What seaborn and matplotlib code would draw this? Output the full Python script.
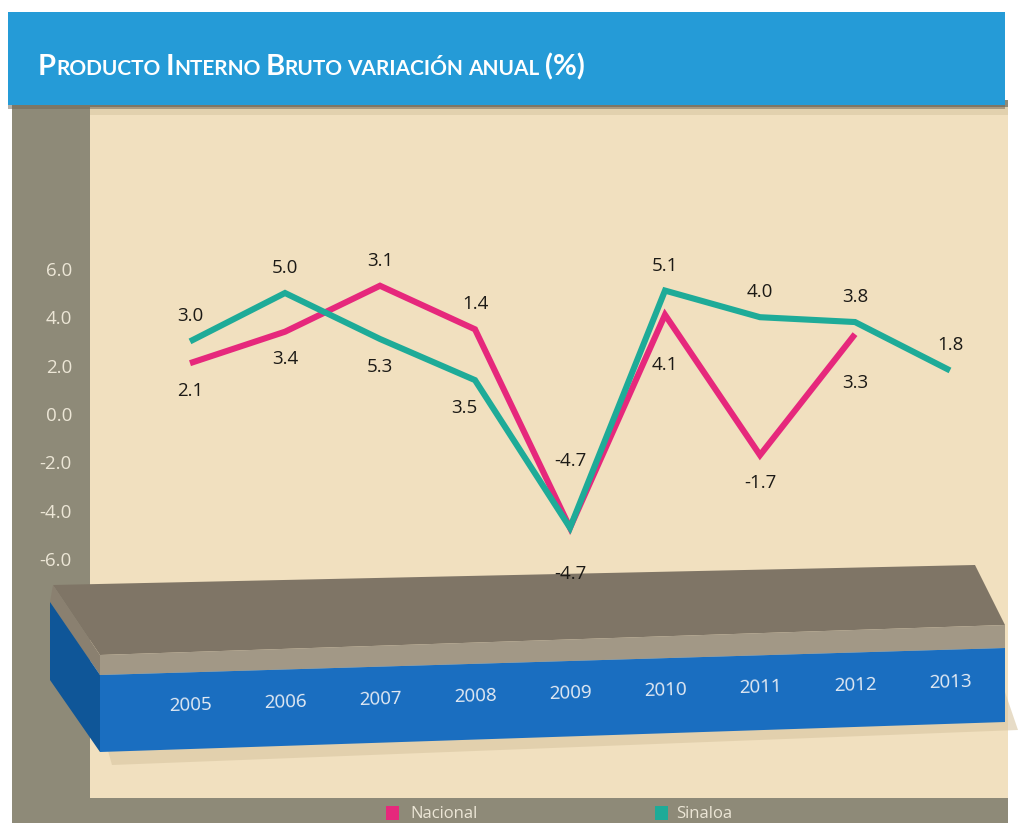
import numpy as np
import pandas as pd
import matplotlib
matplotlib.use("Agg")
import matplotlib.pyplot as plt
import matplotlib.transforms as mtransforms
from matplotlib.patches import Rectangle, Polygon
import seaborn as sns

# data
years = [2005, 2006, 2007, 2008, 2009, 2010, 2011, 2012, 2013]
nacional = [2.1, 3.4, 5.3, 3.5, -4.7, 4.1, -1.7, 3.3]
sinaloa = [3.0, 5.0, 3.1, 1.4, -4.7, 5.1, 4.0, 3.8, 1.8]
yticks = [-6, -4, -2, 0, 2, 4, 6]
title_words = ["Producto", "Interno", "Bruto", "variación", "anual", "(%)"]

df = pd.concat([
    pd.DataFrame({"year": years[:len(nacional)], "valor": nacional, "serie": "Nacional"}),
    pd.DataFrame({"year": years, "valor": sinaloa, "serie": "Sinaloa"}),
])
colors = {"Nacional": "#e6287c", "Sinaloa": "#1eab98"}

sns.set_style("white")
plt.rcParams["font.family"] = ["Open Sans", "DejaVu Sans"]

W, H = 1018, 823
fig = plt.figure(figsize=(W / 100, H / 100), dpi=100)
fig.patch.set_facecolor("white")


def fx(x):
    return x / W


def fy(y):
    return 1 - y / H


def rect(x0, y0, x1, y1, color, z=-5, alpha=1.0):
    fig.add_artist(Rectangle((fx(x0), fy(y1)), (x1 - x0) / W, (y1 - y0) / H,
                             transform=fig.transFigure, color=color, lw=0,
                             zorder=z, alpha=alpha))


def poly(pts, color, z=-4, alpha=1.0):
    fig.add_artist(Polygon([(fx(a), fy(b)) for a, b in pts], closed=True,
                           transform=fig.transFigure, color=color, lw=0,
                           zorder=z, alpha=alpha))


# background panels
rect(12, 100, 1008, 823, "#8e8a78", z=-6)
rect(90, 107, 1008, 798, "#f1e0bf", z=-5)
rect(90, 107, 1008, 115, "#d9c7a4", z=-5, alpha=0.6)
rect(8, 104, 1005, 109, "#6e6353", z=-3, alpha=0.5)
rect(8, 12, 1005, 105, "#259bd7", z=-2)

# 3D base bar
poly([(100, 722), (1005, 692), (1018, 730), (112, 765)], "#d8c6a2", z=-4.5, alpha=0.6)
poly([(53, 585), (975, 565), (1005, 625), (100, 655)], "#7f7566")
poly([(53, 585), (100, 655), (100, 675), (50, 602)], "#8a8070")
poly([(100, 655), (1005, 625), (1005, 648), (100, 675)], "#a29886")
poly([(50, 602), (100, 675), (100, 752), (50, 680)], "#0f5698")
poly([(100, 675), (1005, 648), (1005, 722), (100, 752)], "#1a6ec0")

# plot axes over the beige panel
ax_l, ax_r, ax_t, ax_b = 90, 1008, 107, 798
px_year, x0_px = 95.0, 190.0
px_unit, y0_px = 24.2, 414.0
ax = fig.add_axes([fx(ax_l), fy(ax_b), (ax_r - ax_l) / W, (ax_b - ax_t) / H])
ax.patch.set_visible(False)
ax.set_xlim(2005 - (x0_px - ax_l) / px_year, 2005 + (ax_r - x0_px) / px_year)
ax.set_ylim(-(ax_b - y0_px) / px_unit, (y0_px - ax_t) / px_unit)

sns.lineplot(data=df, x="year", y="valor", hue="serie", palette=colors,
             hue_order=["Nacional", "Sinaloa"], lw=4.4, legend=False, ax=ax,
             solid_joinstyle="miter", solid_capstyle="butt")

for s in ax.spines.values():
    s.set_visible(False)
ax.set_xlabel("")
ax.set_ylabel("")
ax.set_xticks([])
ax.set_yticks(yticks)
ax.set_yticklabels([f"{v:.1f}" for v in yticks], color="#ece6d6", fontsize=13.5)
ax.tick_params(axis="y", length=0, pad=13)

# value labels: Sinaloa above the upper point, Nacional below the lower point
up_off = {2009: 48}
down_off = {2009: 33, 2010: 36, 2012: 35}
dx_off = {2008: -8}
for i, yr in enumerate(years):
    pts = [sinaloa[i]] + ([nacional[i]] if i < len(nacional) else [])
    ax.annotate(f"{sinaloa[i]:.1f}", (yr, max(pts)), xytext=(0, up_off.get(yr, 18)),
                textcoords="offset points", ha="center", va="center",
                fontsize=13.5, color="#1c1a16")
    if i < len(nacional):
        ax.annotate(f"{nacional[i]:.1f}", (yr, min(pts)),
                    xytext=(dx_off.get(yr, 0), -down_off.get(yr, 20)),
                    textcoords="offset points", ha="center", va="center",
                    fontsize=13.5, color="#1c1a16")

# year labels on the blue band
band = mtransforms.blended_transform_factory(ax.transData, fig.transFigure)
slope = 23 / 760
for yr in years:
    ypx = 705 - (yr - 2005) * px_year * slope
    ax.text(yr, fy(ypx), str(yr), transform=band, ha="center", va="center",
            fontsize=13.5, color="#e6ecf4", rotation=np.degrees(np.arctan(slope)),
            rotation_mode="anchor")

# title in small caps
r = fig.canvas.get_renderer()
x = fx(38)
for w in title_words:
    if w.startswith("("):
        parts = [(w, 21)]
    elif w[0].islower():
        parts = [(w.upper(), 15)]
    else:
        parts = [(w[0], 21), (w[1:].upper(), 15)]
    for txt, size in parts:
        t = fig.text(x, fy(75), txt, fontsize=size, fontweight="bold",
                     family=["Lato", "DejaVu Sans"], color="white",
                     va="baseline", ha="left")
        bb = t.get_window_extent(renderer=r)
        x = bb.x1 / W
    x += 5 / W

# legend at the bottom edge
rect(386, 806, 399, 820, colors["Nacional"], z=1)
rect(655, 806, 668, 820, colors["Sinaloa"], z=1)
fig.text(fx(410), fy(818), "Nacional", fontsize=12, color="#ece6d6", va="baseline")
fig.text(fx(676), fy(818), "Sinaloa", fontsize=12, color="#ece6d6", va="baseline")

fig.savefig("out.png", dpi=100)
